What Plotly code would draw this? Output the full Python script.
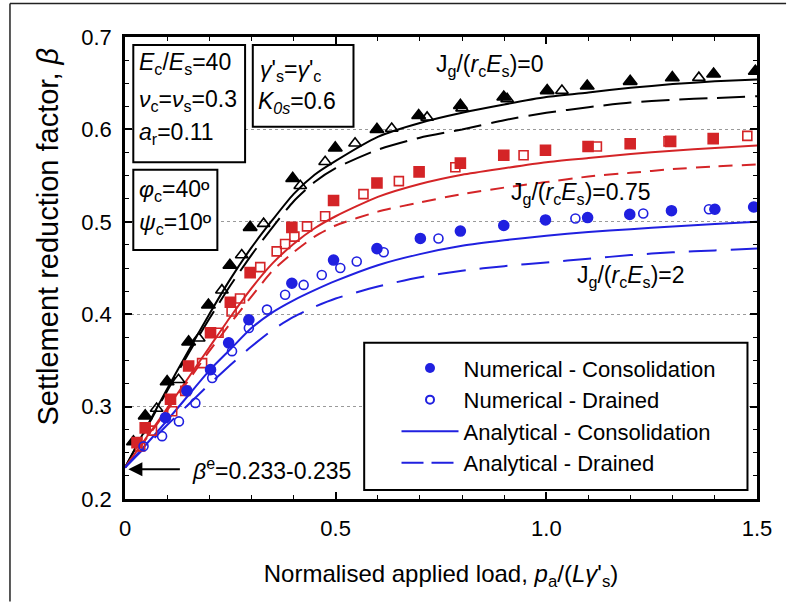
import plotly.graph_objects as go

FONT = "Liberation Sans, Arial, sans-serif"
BLACK = "#000000"
RED = "#d42427"
BLUE = "#2020e0"

# ---- analytical curves (common x grid) ----
x_curve = [0, 0.05, 0.1, 0.15, 0.2, 0.25, 0.3, 0.35, 0.4, 0.45, 0.5,
           0.6, 0.7, 0.8, 0.9, 1.0, 1.1, 1.2, 1.3, 1.4, 1.5]
ac_j0 = [0.234, 0.277, 0.319, 0.360, 0.400, 0.438, 0.472, 0.502, 0.530, 0.551, 0.566,
         0.592, 0.607, 0.618, 0.627, 0.635, 0.640, 0.645, 0.649, 0.652, 0.654]
ad_j0 = [0.234, 0.276, 0.317, 0.357, 0.395, 0.431, 0.464, 0.494, 0.522, 0.543, 0.558,
         0.578, 0.591, 0.600, 0.610, 0.618, 0.624, 0.629, 0.632, 0.634, 0.636]
ac_j075 = [0.234, 0.266, 0.298, 0.331, 0.364, 0.397, 0.428, 0.455, 0.476, 0.493, 0.506,
           0.527, 0.541, 0.551, 0.558, 0.5645, 0.569, 0.5735, 0.577, 0.580, 0.5825]
ad_j075 = [0.234, 0.265, 0.296, 0.328, 0.360, 0.390, 0.419, 0.447, 0.467, 0.484, 0.496,
           0.511, 0.521, 0.530, 0.537, 0.543, 0.549, 0.553, 0.557, 0.560, 0.562]
ac_j2 = [0.234, 0.259, 0.285, 0.312, 0.339, 0.362, 0.385, 0.402, 0.415, 0.426, 0.436,
         0.453, 0.465, 0.474, 0.480, 0.485, 0.489, 0.492, 0.495, 0.4975, 0.500]
ad_j2 = [0.234, 0.257, 0.280, 0.302, 0.324, 0.345, 0.365, 0.383, 0.397, 0.408, 0.417,
         0.430, 0.440, 0.447, 0.452, 0.456, 0.460, 0.464, 0.467, 0.469, 0.471]

# ---- numerical results ----
nc_j0_x = [0.02, 0.048, 0.10, 0.151, 0.198, 0.249, 0.297, 0.398, 0.499, 0.598, 0.697,
           0.796, 0.899, 1.002, 1.097, 1.199, 1.299, 1.397, 1.496]
nc_j0_y = [0.262, 0.290, 0.327, 0.370, 0.410, 0.453, 0.494, 0.547, 0.580, 0.600, 0.615,
           0.626, 0.635, 0.642, 0.647, 0.652, 0.656, 0.660, 0.663]
nd_j0_x = [0.075, 0.127, 0.175, 0.230, 0.277, 0.329, 0.416, 0.475, 0.546, 0.633, 0.717,
           0.800, 0.907, 1.037, 1.362]
nd_j0_y = [0.298, 0.329, 0.374, 0.426, 0.464, 0.498, 0.539, 0.565, 0.585, 0.601, 0.613,
           0.623, 0.633, 0.642, 0.656]

nc_j075_x = [0.0285, 0.048, 0.108, 0.151, 0.203, 0.250, 0.297, 0.396, 0.495, 0.598, 0.698,
             0.796, 0.899, 0.998, 1.099, 1.199, 1.295, 1.396]
nc_j075_y = [0.261, 0.277, 0.308, 0.344, 0.380, 0.413, 0.445, 0.494, 0.523, 0.542, 0.554,
             0.5635, 0.572, 0.5775, 0.5815, 0.5845, 0.587, 0.590]
nd_j075_x = [0.036, 0.064, 0.112, 0.143, 0.183, 0.222, 0.253, 0.273, 0.321, 0.360, 0.380,
             0.402, 0.432, 0.475, 0.566, 0.650, 0.784, 0.946, 1.120, 1.290, 1.477]
nd_j075_y = [0.257, 0.274, 0.295, 0.317, 0.347, 0.380, 0.403, 0.417, 0.451, 0.468, 0.476,
             0.484, 0.495, 0.506, 0.530, 0.544, 0.559, 0.572, 0.5815, 0.587, 0.593]

nc_j2_x = [0.096, 0.147, 0.203, 0.246, 0.294, 0.396, 0.495, 0.598, 0.701, 0.796, 0.899,
           0.998, 1.098, 1.198, 1.297, 1.400, 1.492]
nc_j2_y = [0.288, 0.317, 0.340, 0.369, 0.394, 0.4335, 0.4586, 0.471, 0.482, 0.490, 0.496,
           0.502, 0.5046, 0.508, 0.512, 0.5136, 0.516]
nd_j2_x = [0.044, 0.088, 0.128, 0.167, 0.207, 0.254, 0.294, 0.337, 0.380, 0.424, 0.467,
           0.511, 0.550, 0.614, 0.744, 1.069, 1.230, 1.386]
nd_j2_y = [0.257, 0.268, 0.284, 0.304, 0.331, 0.360, 0.385, 0.405, 0.421, 0.4317, 0.4425,
           0.450, 0.457, 0.467, 0.482, 0.5036, 0.509, 0.5136]

x_tickvals = [0, 0.5, 1.0, 1.5]
x_ticktext = ["0", "0.5", "1.0", "1.5"]
legend_names = ["Numerical - Consolidation", "Numerical - Drained",
                "Analytical - Consolidation", "Analytical - Drained"]

fig = go.Figure()

# analytical lines
line_sets = [
    (ac_j0, BLACK, "solid"), (ad_j0, BLACK, "28px,10px"),
    (ac_j075, RED, "solid"), (ad_j075, RED, "14px,9px"),
    (ac_j2, BLUE, "solid"), (ad_j2, BLUE, "28px,14px"),
]
for ys, col, dash in line_sets:
    fig.add_trace(go.Scatter(x=x_curve, y=ys, mode="lines", showlegend=False,
                             line=dict(color=col, width=2, dash=dash, shape="spline",
                                       smoothing=0.6),
                             hoverinfo="skip"))

# numerical markers
marker_sets = [
    (nc_j0_x, nc_j0_y, BLACK, "triangle-up", 12),
    (nd_j0_x, nd_j0_y, BLACK, "triangle-up-open", 11),
    (nc_j075_x, nc_j075_y, RED, "square", 10),
    (nd_j075_x, nd_j075_y, RED, "square-open", 9),
    (nc_j2_x, nc_j2_y, BLUE, "circle", 10),
    (nd_j2_x, nd_j2_y, BLUE, "circle-open", 9),
]
for xs, ys, col, sym, sz in marker_sets:
    fig.add_trace(go.Scatter(x=xs, y=ys, mode="markers", showlegend=False,
                             marker=dict(color=col, symbol=sym, size=sz,
                                         line=dict(color=col, width=1.6))))

# legend keys
fig.add_trace(go.Scatter(x=[None], y=[None], mode="markers", name=legend_names[0],
                         legendgroup="a", marker=dict(color=BLUE, symbol="circle", size=10)))
fig.add_trace(go.Scatter(x=[None], y=[None], mode="markers", name=legend_names[1],
                         legendgroup="b",
                         marker=dict(color=BLUE, symbol="circle-open", size=8,
                                     line=dict(width=2, color=BLUE))))
fig.add_trace(go.Scatter(x=[None], y=[None], mode="lines", name=legend_names[2],
                         legendgroup="c", line=dict(color=BLUE, width=2)))
fig.add_trace(go.Scatter(x=[None], y=[None], mode="lines", name=legend_names[3],
                         legendgroup="d", line=dict(color=BLUE, width=2, dash="22px,8px")))

shapes = []
# parameter boxes and legend frame
for x0, x1, y0, y1 in [(0.0197, 0.285, 0.5645, 0.6914),
                       (0.3033, 0.5423, 0.603, 0.6914),
                       (0.0197, 0.2192, 0.4694, 0.5564),
                       (0.5677, 1.4774, 0.2097, 0.3692)]:
    shapes.append(dict(type="rect", xref="x", yref="y", x0=x0, x1=x1, y0=y0, y1=y1,
                       line=dict(color=BLACK, width=2), fillcolor="white", layer="above"))
# outer frame: left and top edges, kept inside the page
shapes.append(dict(type="line", xref="paper", yref="paper", x0=-0.182, x1=-0.182,
                   y0=-0.222, y1=1.0724, line=dict(color="#222", width=1.5)))
shapes.append(dict(type="line", xref="paper", yref="paper", x0=-0.182, x1=1.046,
                   y0=1.0724, y1=1.0724, line=dict(color="#222", width=1.5)))

ann_font = dict(family=FONT, size=23, color=BLACK)
annotations = []
box_text = [
    (0.0285, 0.6709, "<i>E</i><sub>c</sub>/<i>E</i><sub>s</sub>=40"),
    (0.0285, 0.631, "<i>ν</i><sub>c</sub>=<i>ν</i><sub>s</sub>=0.3"),
    (0.0285, 0.5955, "<i>a</i><sub>r</sub>=0.11"),
    (0.316, 0.6634, "<i>γ</i>'<sub>s</sub>=<i>γ</i>'<sub>c</sub>"),
    (0.312, 0.6292, "<i>K</i><sub><i>0s</i></sub>=0.6"),
    (0.0285, 0.534, "<i>φ</i><sub>c</sub>=40º"),
    (0.0285, 0.4982, "<i>ψ</i><sub>c</sub>=10º"),
    (0.7324, 0.6688, "J<sub>g</sub>/(<i>r</i><sub>c</sub><i>E</i><sub>s</sub>)=0"),
    (0.9105, 0.5308, "J<sub>g</sub>/(<i>r</i><sub>c</sub><i>E</i><sub>s</sub>)=0.75"),
    (1.069, 0.4406, "J<sub>g</sub>/(<i>r</i><sub>c</sub><i>E</i><sub>s</sub>)=2"),
    (0.1544, 0.2323, "<i>β</i><sup>e</sup>=0.233-0.235"),
]
for x, y, t in box_text:
    annotations.append(dict(x=x, y=y, xref="x", yref="y", text=t, showarrow=False,
                            xanchor="left", yanchor="middle", font=ann_font))
# arrow to the elastic value on the y axis
annotations.append(dict(x=0.008, y=0.2323, xref="x", yref="y", ax=53, ay=0, text="",
                        showarrow=True, arrowhead=2, arrowsize=1.4, arrowwidth=2,
                        arrowcolor=BLACK))
# y axis title
annotations.append(dict(x=-0.1219, y=0.568, xref="paper", yref="paper",
                        xanchor="center", yanchor="middle",
                        text="Settlement reduction factor, <i>β</i>", textangle=-90,
                        showarrow=False, font=dict(family=FONT, size=29, color=BLACK)))

axis_common = dict(showline=True, linecolor=BLACK, linewidth=2.5, mirror="allticks",
                   ticks="inside", ticklen=7, tickwidth=1.5, tickcolor=BLACK,
                   tickfont=dict(family=FONT, size=22, color=BLACK), zeroline=False)

fig.update_layout(
    width=787, height=603,
    margin=dict(l=125, r=30.3, t=36.5, b=103.5),
    paper_bgcolor="white", plot_bgcolor="white",
    shapes=shapes, annotations=annotations,
    xaxis=dict(range=[0, 1.5], tickvals=x_tickvals, ticktext=x_ticktext,
               showgrid=False, ticklabelstandoff=8,
               minor=dict(dtick=0.1, ticks="inside", ticklen=4, tickwidth=1.2,
                          tickcolor=BLACK, showgrid=False),
               title=dict(text="Normalised applied load, <i>p</i><sub>a</sub>/(<i>L</i><i>γ</i>'<sub>s</sub>)",
                          font=dict(family=FONT, size=24, color=BLACK), standoff=26),
               **axis_common),
    yaxis=dict(range=[0.2, 0.7], dtick=0.1, tickformat=".1f", showgrid=True,
               gridcolor="#9a9a9a", gridwidth=1, griddash="dot", ticklabelstandoff=6,
               minor=dict(dtick=0.025, ticks="inside", ticklen=4, tickwidth=1.2,
                          tickcolor=BLACK, showgrid=False),
               **axis_common),
    legend=dict(x=0.4296, y=0.3285, xanchor="left", yanchor="top", bgcolor="rgba(0,0,0,0)",
                borderwidth=0, font=dict(family=FONT, size=22, color=BLACK),
                itemwidth=57, tracegroupgap=0, traceorder="grouped"),
)

fig.write_html("out.html")
